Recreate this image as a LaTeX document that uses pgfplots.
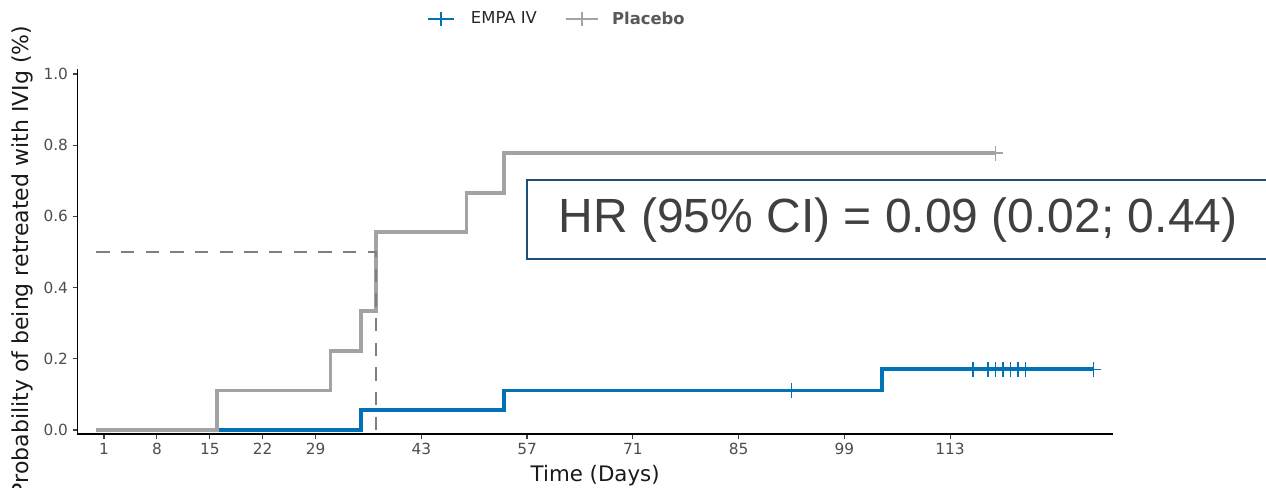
\documentclass[border=0pt]{standalone}
\usepackage{pgfplots}
\pgfplotsset{compat=1.18}
\usepackage{fontspec}
\setmainfont{DejaVu Sans}
\newfontfamily\arialfont{Liberation Sans}
\definecolor{empa}{HTML}{0072B5}
\definecolor{placebo}{HTML}{A3A3A3}
\definecolor{median}{HTML}{7F7F7F}
\definecolor{tickgrey}{HTML}{4D4D4D}
\definecolor{hrblue}{HTML}{1F4E79}
\definecolor{hrtext}{HTML}{404040}

\begin{document}
\begin{tikzpicture}[x=0.75pt,y=0.75pt]
\begin{axis}[
  at={(57.98pt,39.75pt)}, anchor=south west,
  scale only axis, width=776.8pt, height=273.75pt,
  xmin=-2.535, xmax=134.58, ymin=-0.0112, ymax=1.014,
  axis lines=left, axis line style={-, line width=1.1pt, black},
  xtick={1,8,15,22,29,43,57,71,85,99,113},
  ytick={0,0.2,0.4,0.6,0.8,1},
  tick align=outside, major tick length=3.5pt,
  tick style={line width=0.8pt, color=black!75},
  ticklabel style={font=\fontsize{11.5}{13}\selectfont, color=tickgrey},
  /pgf/number format/assume math mode=true,
  yticklabel style={/pgf/number format/fixed, /pgf/number format/fixed zerofill, /pgf/number format/precision=1},
  xlabel={Time (Days)},
  xlabel style={font=\fontsize{16}{18}\selectfont, color=black!90, at={(axis description cs:0.5,0)}, anchor=center, yshift=-31.5pt},
  legend columns=2,
  legend style={at={(axis description cs:0.463,1.137)}, anchor=center, draw=none, fill=none,
    font=\fontsize{12.3}{14}\selectfont, /tikz/every even column/.append style={column sep=19pt}},
  clip=false,
]
% EMPA IV
\addplot[empa, line width=2.8pt, const plot,
  legend image code/.code={\draw[empa, line width=2.2pt] (0pt,0pt) -- (20pt,0pt); \draw[empa, line width=1.2pt] (10pt,-5pt) -- (10pt,5pt); \path (29pt,0pt);}]
  coordinates {(0,0) (35,0.0556) (54,0.1111) (104,0.1704) (132,0.1704)};
\addlegendentry{\textcolor{black!85}{EMPA IV}}
% Placebo
\addplot[placebo, line width=2.8pt, const plot,
  legend image code/.code={\draw[placebo, line width=2.2pt] (0pt,0pt) -- (24pt,0pt); \draw[placebo, line width=1.2pt] (12pt,-5pt) -- (12pt,5pt); \path (31pt,0pt);}]
  coordinates {(0,0) (16,0.1111) (31,0.2222) (35,0.3333) (37,0.5556) (49,0.6667) (54,0.7778) (119,0.7778)};
\addlegendentry{\textcolor[HTML]{595959}{\bfseries Placebo}}
% censor marks
\addplot[empa, only marks, mark=+, mark size=5.6pt, mark options={line width=1.2pt}, forget plot]
  coordinates {(92,0.1111) (116,0.1704) (118,0.1704) (119,0.1704) (120,0.1704) (121,0.1704) (122,0.1704) (123,0.1704) (132,0.1704)};
\addplot[placebo, only marks, mark=+, mark size=5.6pt, mark options={line width=1.2pt}, forget plot]
  coordinates {(119,0.7778)};
% median
\addplot[median, line width=2pt, dash pattern=on 10pt off 8.5pt, forget plot]
  coordinates {(0,0.5) (37,0.5) (37,0)};
\end{axis}
\node[rotate=90, font=\fontsize{16.5}{18}\selectfont, text=black!90] at (22,226) {Probability of being retreated with IVIg (\%)};
\draw[hrblue, line width=1.5pt, fill=white] (527,228) rectangle (1280,307);
\node[text=hrtext, font=\arialfont\fontsize{36}{40}\selectfont] at (898,267) {HR (95\% CI) = 0.09 (0.02; 0.44)};
\pgfresetboundingbox
\path (0,0) rectangle (1266,487);
\end{tikzpicture}
\end{document}
